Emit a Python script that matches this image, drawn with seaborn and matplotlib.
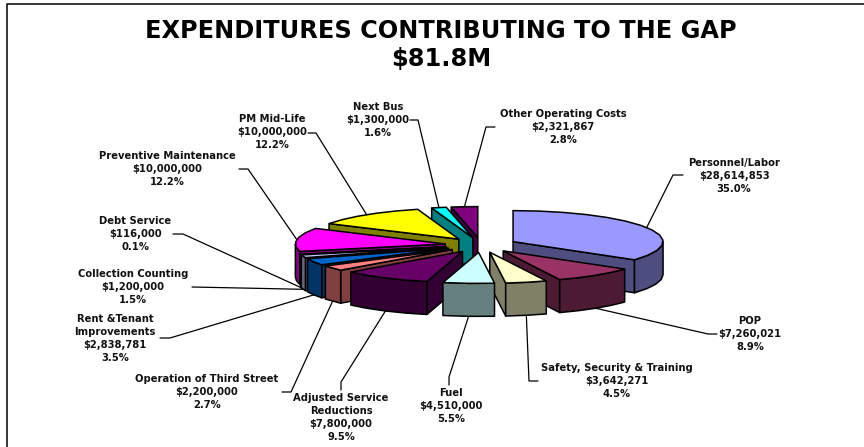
import numpy as np
import matplotlib
matplotlib.use("Agg")
import matplotlib.pyplot as plt
import seaborn as sns

# Slice data, clockwise from 12 o'clock
names = ["Personnel/Labor", "POP", "Safety, Security & Training", "Fuel",
         "Adjusted Service\nReductions", "Operation of Third Street",
         "Rent &Tenant\nImprovements", "Collection Counting", "Debt Service",
         "Preventive Maintenance", "PM Mid-Life", "Next Bus", "Other Operating Costs"]
amounts = [28614853, 7260021, 3642271, 4510000, 7800000, 2200000, 2838781,
           1200000, 116000, 10000000, 10000000, 1300000, 2321867]
top_hex = ["#9999FF", "#993366", "#FFFFCC", "#CCFFFF", "#660066", "#FF8080", "#0066CC",
           "#CCCCFF", "#000080", "#FF00FF", "#FFFF00", "#00FFFF", "#800080"]
title_lines = ["EXPENDITURES CONTRIBUTING TO THE GAP", "$81.8M"]

# Label centres and leader lines in picture pixels: (x, y of first line), bend, end
label_pos = [(734, 163), (750, 321), (617, 368), (451, 393), (341, 398), (207, 379),
             (115, 319), (133, 274), (135, 221), (167, 156), (272, 119), (378, 107), (563, 114)]
leader_bend = [(673, 175), (708, 334), (529, 381), (449, 377), (341, 382), (291, 392),
               (170, 338), (192, 287), (183, 234), (248, 169), (316, 133), (418, 120), (486, 127)]
leader_end = [(683, 175), (717, 334), (538, 381), (449, 385), (341, 390), (282, 392),
              (160, 338), (192, 287), (173, 234), (239, 169), (308, 133), (410, 120), (495, 127)]

# Pie geometry in pixels
cx, cy = 481, 245
rx, ry = 150, 31
depth = 33
explode = 0.24
rim_step = 10  # the original rim is slightly faceted

sns.set_theme(style="white")
# the reference text is stretched sideways, DejaVu bold has about the same width
plt.rcParams["font.family"] = ["DejaVu Sans"]

tops = sns.color_palette(top_hex)
sides = [tuple(c * 0.5 for c in col) for col in tops]

fig = plt.figure(figsize=(8.64, 4.47), dpi=100)
ax = fig.add_axes([0, 0, 1, 1])
ax.set_xlim(0, 864)
ax.set_ylim(447, 0)
ax.axis("off")

# Frame on top and left only
ax.plot([7, 7, 864], [447, 3.5, 3.5], color="black", lw=1.1)


def rim(apex, deg):
    t = np.radians(deg)
    return apex[0] + rx * np.sin(t), apex[1] - ry * np.cos(t)


def arc(lo, hi):
    return np.linspace(lo, hi, int((hi - lo) / rim_step) + 2)


total = sum(amounts)
fractions = np.array(amounts) / total
edges = np.concatenate([[0], np.cumsum(fractions)]) * 360
mids = (edges[:-1] + edges[1:]) / 2
apexes = [rim((cx, cy), m) for m in mids]
apexes = [(cx + (a[0] - cx) * explode, cy + (a[1] - cy) * explode) for a in apexes]

# Paint from the back of the pie to the front
order = sorted(range(len(amounts)), key=lambda i: -np.cos(np.radians(mids[i])))
z = 2
for i in order:
    a, b = edges[i], edges[i + 1]
    apex = apexes[i]
    side_style = dict(facecolor=sides[i], edgecolor="black", lw=1.1, joinstyle="round")

    # Flat cut walls that face the viewer
    for deg, show in [(a, 180 <= a < 360), (b, 0 < b <= 180)]:
        if show:
            px, py = rim(apex, deg)
            ax.fill([apex[0], px, px, apex[0]],
                    [apex[1], py, py + depth, apex[1] + depth], zorder=z, **side_style)

    # Outer wall, only the front half of the ellipse shows
    lo, hi = max(a, 90), min(b, 270)
    if lo < hi:
        xs, ys = rim(apex, arc(lo, hi))
        ax.fill(np.r_[xs, xs[::-1]], np.r_[ys, ys[::-1] + depth], zorder=z, **side_style)

    # Top face
    xs, ys = rim(apex, arc(a, b))
    ax.fill(np.r_[apex[0], xs], np.r_[apex[1], ys], facecolor=tops[i], edgecolor="black",
            lw=1.1, zorder=z)
    z += 1

# Labels and leader lines
for i, name in enumerate(names):
    tx, ty = rim(apexes[i], mids[i])
    if np.cos(np.radians(mids[i])) < 0:
        ty += depth
    bx, by = leader_bend[i]
    ex, ey = leader_end[i]
    ax.plot([tx, bx, ex], [ty, by, ey], color="black", lw=0.9, zorder=50)

    lines = name.split("\n") + [f"${amounts[i]:,}", f"{fractions[i] * 100:.1f}%"]
    x0, y0 = label_pos[i]
    for k, line in enumerate(lines):
        ax.text(x0, y0 + k * 13, line, ha="center", va="center", fontsize=7.2,
                fontweight="bold", color="#111111", zorder=60)

for k, line in enumerate(title_lines):
    ax.text(441, 31 + k * 27.5, line, ha="center", va="center", fontsize=17.3,
            fontweight="bold", color="black")

fig.savefig("out.png", dpi=100)
